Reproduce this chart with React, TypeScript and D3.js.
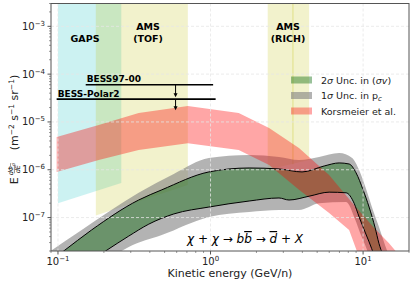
import { useMemo } from 'react'
import * as d3 from 'd3'

// Antideuteron flux: DM band (b b-bar) vs. Korsmeier prediction, experiment sensitivity regions

const W = 417
const H = 283
const PLOT = { left: 51, right: 409, top: 3.5, bottom: 251 }
const X_DOMAIN = [0.09, 20]
const Y_DOMAIN = [2e-8, 3e-3]
const X_MAJOR = [0.1, 1, 10]
const Y_MAJOR = [1e-7, 1e-6, 1e-5, 1e-4, 1e-3]

// sensitivity regions (lower edge, upper edge = top of frame)
const GAPS_E = [0.1, 0.26]
const GAPS_LOW = [2.0e-7, 5.3e-7]
const TOF_E = [0.177, 0.71]
const TOF_LOW = [1.1e-7, 4.8e-7]
const RICH_E = [2.37, 4.43]
const RICH_LOW = [1.0e-6, 1.6e-6]
const RICH_SPLIT = 3.47

// upper limits
const BESS97_E = [0.152, 1.04]
const BESS97_V = 6.0e-5
const BESSP2_E = [0.098, 1.08]
const BESSP2_V = 3.0e-5
const ARROW_E = 0.59

// Korsmeier et al. band
const KOR_HI_E = [0.098, 0.185, 0.338, 0.71, 1.53, 2.42, 3.8, 5.99, 8.73, 11.8, 14.8, 17.2]
const KOR_HI = [4.85e-6, 8.6e-6, 1.54e-5, 2.16e-5, 1.54e-5, 7.5e-6, 2.85e-6, 7.8e-7, 1.83e-7, 6.1e-8, 2.9e-8, 1.65e-8]
const KOR_LO_E = [0.098, 0.185, 0.338, 0.71, 1.53, 2.42, 3.8, 5.99, 8.1, 9.1, 9.7]
const KOR_LO = [9.0e-7, 1.6e-6, 2.6e-6, 3.6e-6, 2.6e-6, 1.26e-6, 3.8e-7, 1.25e-7, 5.5e-8, 2.0e-8, 1.3e-8]

// 1 sigma in p_c (gray)
const PC_HI_E = [0.085, 0.143, 0.338, 0.574, 0.975, 1.79, 2.81, 3.8, 5.15, 6.97, 8.48, 9.42, 10.5, 11.6, 12.7, 14.4, 15.3]
const PC_HI = [1.8e-8, 5.5e-8, 3.3e-7, 8.2e-7, 1.76e-6, 2.04e-6, 1.85e-6, 1.6e-6, 1.85e-6, 2.24e-6, 1.76e-6, 9.9e-7, 3.8e-7, 1.44e-7, 6.4e-8, 2.0e-8, 1.3e-8]
const PC_LO_E = [0.221, 0.291, 0.479, 0.975, 1.79, 2.81, 3.8, 5.15, 7.74, 8.85, 9.55, 10.3, 10.95]
const PC_LO = [1.43e-8, 2.43e-8, 4.3e-8, 1.03e-7, 1.31e-7, 1.44e-7, 1.44e-7, 2.0e-7, 2.12e-7, 9.3e-8, 4.8e-8, 2.7e-8, 1.6e-8]

// 2 sigma in <sigma v> (green, black edges)
const SV_HI_E = [0.088, 0.109, 0.166, 0.338, 0.479, 0.975, 1.79, 2.81, 3.98, 5.56, 6.97, 8.1, 9.0, 10.0, 10.95, 12.0, 12.7, 13.5]
const SV_HI = [1.2e-8, 2.0e-8, 5.5e-8, 2.33e-7, 3.8e-7, 9.0e-7, 1.09e-6, 1.04e-6, 9.0e-7, 1.2e-6, 1.39e-6, 1.32e-6, 8.6e-7, 3.8e-7, 1.66e-7, 6.1e-8, 2.9e-8, 1.65e-8]
const SV_LO_E = [0.177, 0.205, 0.291, 0.394, 0.574, 0.975, 1.79, 2.81, 3.27, 4.43, 5.99, 7.74, 8.73, 9.42, 10.3, 10.95, 11.8]
const SV_LO = [1.47e-8, 2.0e-8, 4.1e-8, 7.3e-8, 1.19e-7, 1.66e-7, 2.22e-7, 2.57e-7, 2.33e-7, 2.8e-7, 3.4e-7, 3.3e-7, 2.0e-7, 1.03e-7, 5.0e-8, 3.1e-8, 1.65e-8]

const C_CYAN = '#00bfbf'
const C_YEL = '#bfbf00'
const C_GRAY = '#808080'
const C_GREEN = '#006400'
const C_RED = '#ff0000'
const FONT = 'DejaVu Sans, sans-serif'

const zip = (es: number[], vs: number[]) => es.map((e, i) => [e, vs[i]] as [number, number])

function Pow10({ x, y, exp, anchor }: { x: number; y: number; exp: number; anchor: 'end' | 'middle' }) {
  return (
    <text x={x} y={y} textAnchor={anchor} fontSize={10} fontFamily={FONT} fill="#222">
      10
      <tspan fontSize={7} dy={-4}>
        {exp < 0 ? `\u2212${-exp}` : exp}
      </tspan>
    </text>
  )
}

export default function App() {
  const x = useMemo(() => d3.scaleLog().domain(X_DOMAIN).range([PLOT.left, PLOT.right]), [])
  const y = useMemo(() => d3.scaleLog().domain(Y_DOMAIN).range([PLOT.bottom, PLOT.top]), [])

  const lin = d3.line<[number, number]>().x((d) => x(d[0])).y((d) => y(d[1]))
  const smooth = d3
    .line<[number, number]>()
    .x((d) => x(d[0]))
    .y((d) => y(d[1]))
    .curve(d3.curveMonotoneX)

  const band = (gen: typeof lin, hi: [number, number][], lo: [number, number][]) =>
    (gen(hi) ?? '') + (gen(lo.slice().reverse()) ?? '').replace(/^M/, 'L') + 'Z'

  const region = (es: number[], low: number[]) =>
    band(lin, zip(es, [Y_DOMAIN[1], Y_DOMAIN[1]]), zip(es, low))

  const svHi = zip(SV_HI_E, SV_HI)
  const svLo = zip(SV_LO_E, SV_LO)

  const minorX = x.ticks().filter((t) => !X_MAJOR.some((m) => Math.abs(m - t) / m < 1e-6))
  const minorY = y.ticks().filter((t) => !Y_MAJOR.some((m) => Math.abs(m - t) / m < 1e-6) && t >= Y_DOMAIN[0])

  const axisColor = '#555'
  const pw = PLOT.right - PLOT.left
  const ph = PLOT.bottom - PLOT.top

  const arrow = (yv: number, yEnd: number) => {
    const ax = x(ARROW_E)
    const y0 = y(yv)
    return (
      <g>
        <line x1={ax} x2={ax} y1={y0} y2={yEnd - 3} stroke="#000" strokeWidth={1} />
        <path d={`M${ax - 2},${yEnd - 4}L${ax + 2},${yEnd - 4}L${ax},${yEnd}Z`} fill="#000" />
      </g>
    )
  }

  const legend = [
    { label: ['2', <tspan key="s" fontStyle="italic">σ</tspan>, ' Unc. in (', <tspan key="sv" fontStyle="italic">σv</tspan>, ')'], fill: C_GREEN, op: 0.4 },
    { label: ['1', <tspan key="s" fontStyle="italic">σ</tspan>, ' Unc. in p', <tspan key="c" fontSize={7} dy={2} fontStyle="italic">c</tspan>], fill: C_GRAY, op: 0.6 },
    { label: ['Korsmeier et al.'], fill: C_RED, op: 0.35 },
  ]

  const bar = { textDecoration: 'overline' }

  return (
    <div style={{ position: 'fixed', left: 0, top: 0 }}>
      <svg width={W} height={H} viewBox={`0 0 ${W} ${H}`} style={{ display: 'block', background: '#fff' }}>
        <defs>
          <clipPath id="plot">
            <rect x={PLOT.left} y={PLOT.top} width={pw} height={ph} />
          </clipPath>
        </defs>

        <g clipPath="url(#plot)">
          <path d={region(GAPS_E, GAPS_LOW)} fill={C_CYAN} fillOpacity={0.2} />
          <path d={region(TOF_E, TOF_LOW)} fill={C_YEL} fillOpacity={0.2} />
          <path d={region(RICH_E, RICH_LOW)} fill={C_YEL} fillOpacity={0.2} />
          <line
            x1={x(RICH_SPLIT)}
            x2={x(RICH_SPLIT)}
            y1={PLOT.top}
            y2={y(1.3e-6)}
            stroke={C_YEL}
            strokeOpacity={0.35}
            strokeWidth={1}
          />

          <path d={band(smooth, zip(PC_HI_E, PC_HI), zip(PC_LO_E, PC_LO))} fill={C_GRAY} fillOpacity={0.6} />
          <path d={band(smooth, svHi, svLo)} fill={C_GREEN} fillOpacity={0.4} />
          <path d={band(lin, zip(KOR_HI_E, KOR_HI), zip(KOR_LO_E, KOR_LO))} fill={C_RED} fillOpacity={0.35} />
          <path d={smooth(svHi) ?? ''} fill="none" stroke="#000" strokeWidth={1} />
          <path d={smooth(svLo) ?? ''} fill="none" stroke="#000" strokeWidth={1} />

          {X_MAJOR.map((t) => (
            <line key={t} x1={x(t)} x2={x(t)} y1={PLOT.top} y2={PLOT.bottom} stroke="#e6e6e6" strokeWidth={0.8} strokeDasharray="3,2" />
          ))}
          {Y_MAJOR.map((t) => (
            <line key={t} x1={PLOT.left} x2={PLOT.right} y1={y(t)} y2={y(t)} stroke="#e6e6e6" strokeWidth={0.8} strokeDasharray="3,2" />
          ))}
        </g>

        {/* upper limits */}
        <line x1={x(BESS97_E[0])} x2={x(BESS97_E[1])} y1={y(BESS97_V)} y2={y(BESS97_V)} stroke="#000" strokeWidth={1.6} />
        <line x1={x(BESSP2_E[0])} x2={x(BESSP2_E[1])} y1={y(BESSP2_V)} y2={y(BESSP2_V)} stroke="#000" strokeWidth={1.6} />
        {arrow(BESS97_V, y(BESSP2_V) - 2)}
        {arrow(BESSP2_V, y(BESSP2_V) + 11)}
        <text x={x(BESS97_E[0]) + 1} y={y(BESS97_V) - 2.5} fontSize={9} fontWeight="bold" fontFamily={FONT}>
          BESS97-00
        </text>
        <text x={x(BESSP2_E[0]) + 1} y={y(BESSP2_V) - 2.5} fontSize={9} fontWeight="bold" fontFamily={FONT}>
          BESS-Polar2
        </text>

        {/* region labels */}
        <g fontSize={9.5} fontWeight="bold" fontFamily={FONT} textAnchor="middle">
          <text x={85} y={41.5}>GAPS</text>
          <text x={148} y={30}>AMS</text>
          <text x={148} y={41.5}>(TOF)</text>
          <text x={288} y={30}>AMS</text>
          <text x={288} y={41.5}>(RICH)</text>
        </g>

        {/* process */}
        <text x={187} y={243} fontSize={12} fontStyle="italic" fontFamily={FONT}>
          χ + χ → b<tspan style={bar}>b</tspan> → <tspan style={bar}>d</tspan> + X
        </text>

        {/* legend */}
        {legend.map((l, i) => (
          <g key={i} transform={`translate(291, ${80 + i * 15.5})`}>
            <rect x={0} y={-3.5} width={21} height={7} fill={l.fill} fillOpacity={l.op} />
            <text x={30} y={3.5} fontSize={9.5} fontFamily={FONT} fill="#222">
              {l.label}
            </text>
          </g>
        ))}

        {/* frame */}
        <rect x={PLOT.left} y={PLOT.top} width={pw} height={ph} fill="none" stroke={axisColor} strokeWidth={1} />

        {/* ticks */}
        {X_MAJOR.map((t) => (
          <g key={t}>
            <line x1={x(t)} x2={x(t)} y1={PLOT.bottom} y2={PLOT.bottom + 3.5} stroke={axisColor} />
            <Pow10 x={x(t)} y={PLOT.bottom + 13.5} exp={Math.round(Math.log10(t))} anchor="middle" />
          </g>
        ))}
        {minorX.map((t) => (
          <line key={t} x1={x(t)} x2={x(t)} y1={PLOT.bottom} y2={PLOT.bottom + 2} stroke={axisColor} strokeWidth={0.6} />
        ))}
        {Y_MAJOR.map((t) => (
          <g key={t}>
            <line x1={PLOT.left - 3.5} x2={PLOT.left} y1={y(t)} y2={y(t)} stroke={axisColor} />
            <Pow10 x={PLOT.left - 6} y={y(t) + 3.5} exp={Math.round(Math.log10(t))} anchor="end" />
          </g>
        ))}
        {minorY.map((t) => (
          <line key={t} x1={PLOT.left - 2} x2={PLOT.left} y1={y(t)} y2={y(t)} stroke={axisColor} strokeWidth={0.6} />
        ))}

        {/* axis labels */}
        <text x={(PLOT.left + PLOT.right) / 2} y={277} textAnchor="middle" fontSize={11} fontFamily={FONT} fill="#222">
          Kinetic energy (GeV/n)
        </text>
        <g transform={`translate(18, ${(PLOT.top + PLOT.bottom) / 2}) rotate(-90)`} fontFamily={FONT} fill="#222">
          <text x={-57} y={0} fontSize={11}>E</text>
          <text x={-42} y={-5} fontSize={6.5} textAnchor="middle" fontStyle="italic">
            dΦ<tspan fontSize={4.5} dy={1.5} style={bar}>d</tspan>
          </text>
          <line x1={-46} x2={-38} y1={-3.6} y2={-3.6} stroke="#222" strokeWidth={0.5} />
          <text x={-42} y={1.8} fontSize={6.5} textAnchor="middle" fontStyle="italic">
            dE
          </text>
          <text x={-23} y={0} fontSize={11}>
            (m<tspan fontSize={7.5} dy={-4}>−2</tspan>
            <tspan dy={4}> s</tspan>
            <tspan fontSize={7.5} dy={-4}>−1</tspan>
            <tspan dy={4}> sr</tspan>
            <tspan fontSize={7.5} dy={-4}>−1</tspan>
            <tspan dy={4}>)</tspan>
          </text>
        </g>
      </svg>
    </div>
  )
}
